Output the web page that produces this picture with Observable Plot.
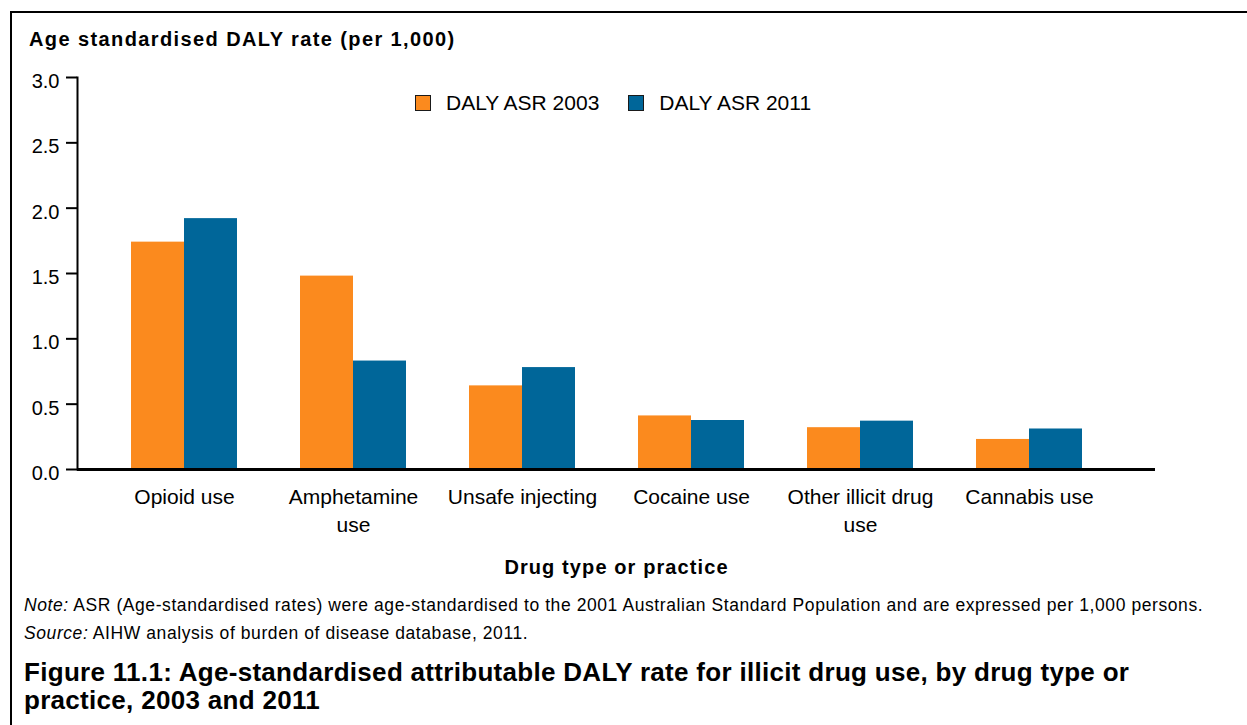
<!DOCTYPE html>
<html>
<head>
<meta charset="utf-8">
<script src="https://cdn.jsdelivr.net/npm/d3@7"></script>
<script src="https://cdn.jsdelivr.net/npm/@observablehq/plot@0.6"></script>
<style>
  html, body { margin: 0; padding: 0; background: #fff; }
  body { width: 1247px; height: 725px; position: relative; overflow: hidden;
         font-family: "Liberation Sans", Arial, sans-serif; color: #000; }
  .border-top { position: absolute; left: 10px; top: 11px; width: 1237px; height: 2px; background: #000; }
  .border-left { position: absolute; left: 10px; top: 11px; width: 2px; height: 714px; background: #000; }
  #chart { position: absolute; left: 0; top: 0; }
  .ytitle { position: absolute; left: 29px; top: 29px; font-size: 20px; line-height: 1; font-weight: bold; letter-spacing: 1.4px; white-space: nowrap; }
  .legend { position: absolute; top: 92px; left: 415px; display: flex; align-items: center; font-size: 21px; line-height: 1; white-space: nowrap; }
  .legend .item { display: flex; align-items: center; margin-right: 29px; }
  .legend .sw { width: 14px; height: 14px; border: 1.5px solid #1a1a1a; margin-right: 15px; }
  .note { position: absolute; left: 24px; font-size: 17.5px; line-height: 1; letter-spacing: 0.58px; white-space: nowrap; }
  .figtitle { position: absolute; left: 24px; top: 658px; font-size: 26px; line-height: 28px; font-weight: bold; letter-spacing: 0.3px; width: 1170px; }
</style>
</head>
<body>
<div class="border-top"></div>
<div class="border-left"></div>
<div id="chart"></div>
<div class="ytitle" id="ytitle"></div>
<div class="legend" id="legend"></div>
<div class="note" id="note" style="top:597px"></div>
<div class="note" id="source" style="top:625px"></div>
<div class="figtitle" id="figtitle"></div>
<script>
// ---- data ----
const categories = ["Opioid use", "Amphetamine use", "Unsafe injecting", "Cocaine use", "Other illicit drug use", "Cannabis use"];
const tickLabels = ["Opioid use", "Amphetamine\nuse", "Unsafe injecting", "Cocaine use", "Other illicit drug\nuse", "Cannabis use"];
const values2003 = [1.74, 1.48, 0.64, 0.41, 0.32, 0.23];
const values2011 = [1.92, 0.83, 0.78, 0.375, 0.37, 0.31];
const seriesNames = ["DALY ASR 2003", "DALY ASR 2011"];
const seriesColors = ["#FB8A1E", "#006699"];
const yTicks = [0, 0.5, 1.0, 1.5, 2.0, 2.5, 3.0];
const yTitle = "Age standardised DALY rate (per 1,000)";
const xTitle = "Drug type or practice";
const noteText = "ASR (Age-standardised rates) were age-standardised to the 2001 Australian Standard Population and are expressed per 1,000 persons.";
const sourceText = "AIHW analysis of burden of disease database, 2011.";
const figTitle = "Figure 11.1: Age-standardised attributable DALY rate for illicit drug use, by drug type or practice, 2003 and 2011";

const rows2003 = categories.map((c, i) => ({category: c, value: values2003[i]}));
const rows2011 = categories.map((c, i) => ({category: c, value: values2011[i]}));

const chart = Plot.plot({
  width: 1247,
  height: 590,
  marginLeft: 77,
  marginRight: 92,
  marginTop: 77,
  marginBottom: 121,
  style: {fontFamily: '"Liberation Sans", Arial, sans-serif', background: "transparent", color: "#000", overflow: "visible"},
  x: {domain: categories, range: [98, 1115], paddingInner: 0.375, paddingOuter: 0.1875, label: null},
  y: {domain: [0, 3], label: null},
  marks: [
    Plot.barY(rows2003, {x: "category", y: "value", fill: seriesColors[0], insetRight: 53}),
    Plot.barY(rows2011, {x: "category", y: "value", fill: seriesColors[1], insetLeft: 53}),
    Plot.axisY({ticks: yTicks, tickSize: 11, tickFormat: () => "", strokeWidth: 2, label: null}),
    Plot.axisY({ticks: yTicks, tickFormat: d3.format(".1f"), tickSize: 0, tickPadding: 18, fontSize: 20, dy: 4, label: null}),
    Plot.axisX({tickSize: 0, tickPadding: 15, fontSize: 21, lineHeight: 1.33, tickFormat: d => tickLabels[categories.indexOf(d)], label: null}),
    Plot.frame({anchor: "left", strokeWidth: 2, stroke: "#000"}),
    Plot.ruleY([0], {strokeWidth: 3, stroke: "#000"}),
    Plot.text([xTitle], {frameAnchor: "bottom", dy: 104, fontSize: 20, fontWeight: "bold"})
  ]
});
d3.select(chart).selectAll("text").filter(function() { return this.textContent === xTitle; }).style("letter-spacing", "1.1px");
document.getElementById("chart").appendChild(chart);

document.getElementById("ytitle").textContent = yTitle;
const legend = document.getElementById("legend");
seriesNames.forEach((n, i) => {
  const item = document.createElement("div"); item.className = "item";
  const sw = document.createElement("div"); sw.className = "sw"; sw.style.background = seriesColors[i];
  const t = document.createElement("span"); t.textContent = n;
  item.appendChild(sw); item.appendChild(t); legend.appendChild(item);
});
document.getElementById("note").innerHTML = "<i>Note:</i> " + noteText;
document.getElementById("source").innerHTML = "<i>Source:</i> " + sourceText;
document.getElementById("figtitle").textContent = figTitle;
</script>
</body>
</html>
